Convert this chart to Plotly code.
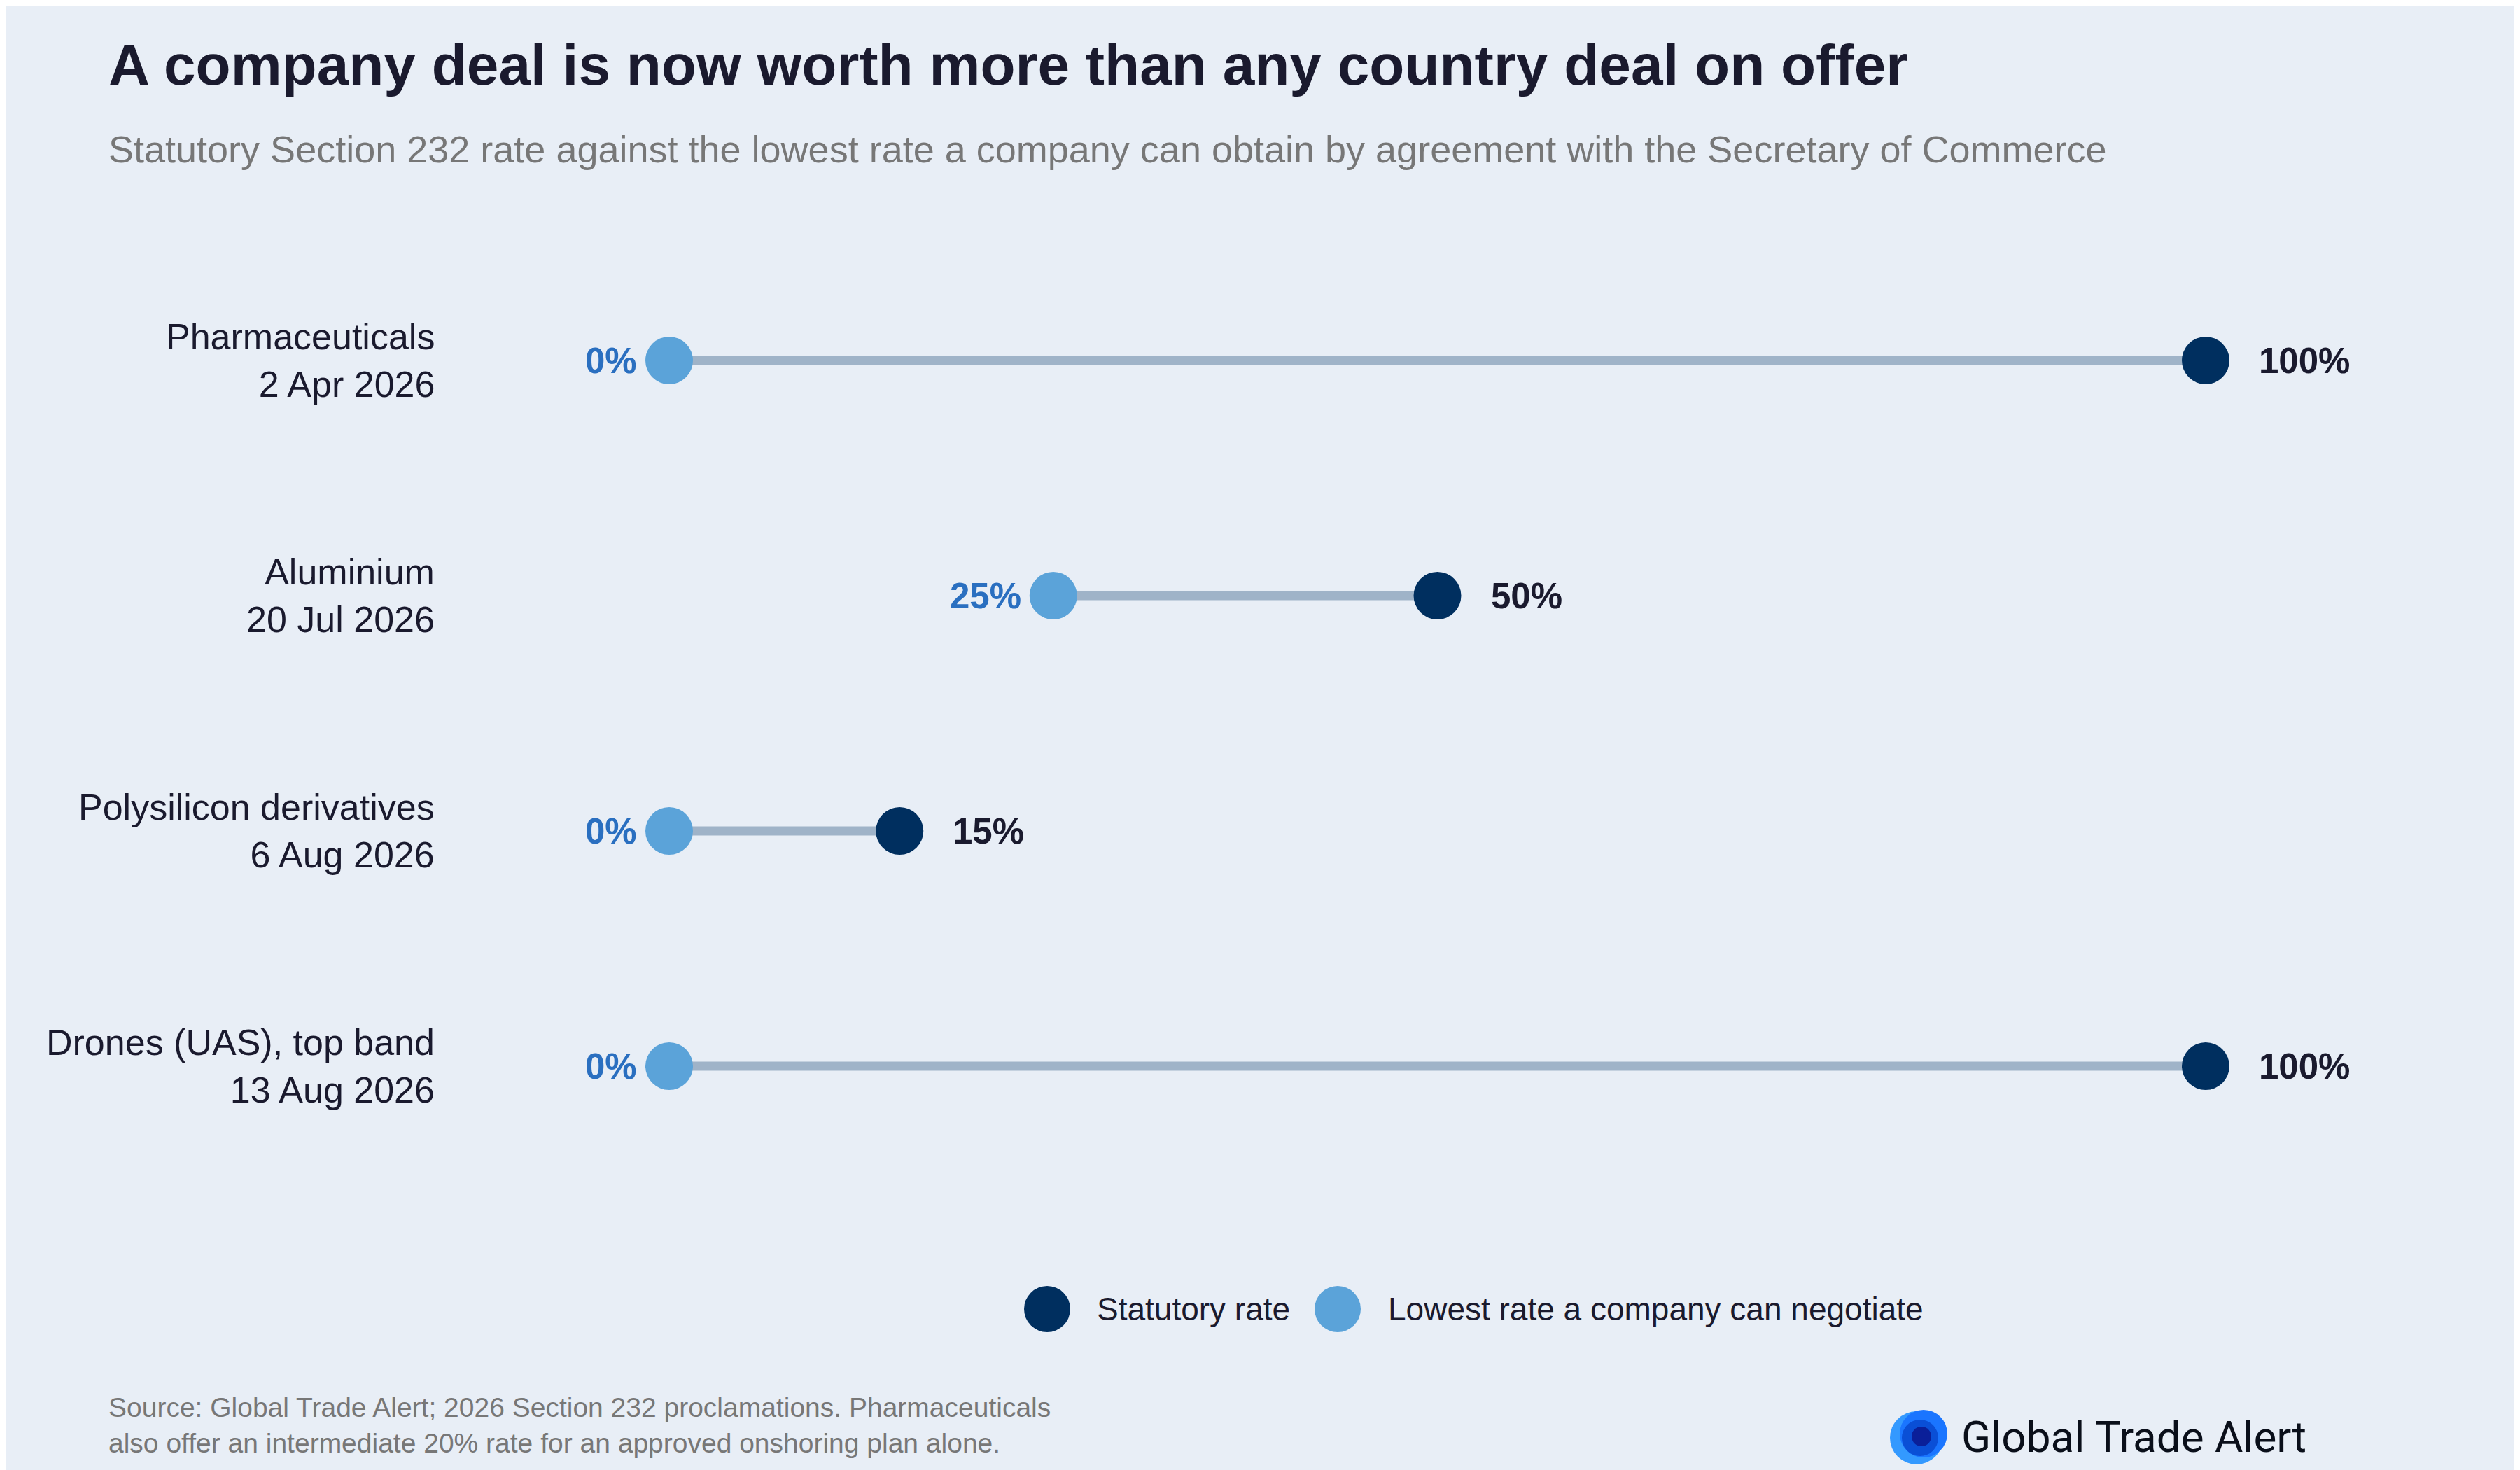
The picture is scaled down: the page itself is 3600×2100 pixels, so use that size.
import plotly.graph_objects as go

categories = ["Pharmaceuticals", "Aluminium", "Polysilicon derivatives", "Drones (UAS), top band"]
dates = ["2 Apr 2026", "20 Jul 2026", "6 Aug 2026", "13 Aug 2026"]
statutory = [100, 50, 15, 100]
lowest = [0, 25, 0, 0]
legend_names = ["Statutory rate", "Lowest rate a company can negotiate"]

W, H = 3600, 2100
L, R, T, B = 948, 457, 339, 417
PW, PH = W - L - R, H - T - B
def px(x): return (x - L) / PW
def py(y): return (H - B - y) / PH

NAVY = "#002f5f"; LIGHT = "#5ba3d9"; LINE = "#9fb3c8"; BG = "#e8eef6"
FONT = "Liberation Sans"
fig = go.Figure()
ys = list(range(len(categories)))
for i in ys:
    fig.add_trace(go.Scatter(x=[lowest[i], statutory[i]], y=[i, i], mode="lines",
                             line=dict(color=LINE, width=13), showlegend=False, hoverinfo="skip"))
fig.add_trace(go.Scatter(x=statutory, y=ys, mode="markers", name=legend_names[0], showlegend=False,
                         marker=dict(color=NAVY, size=68), cliponaxis=False))
fig.add_trace(go.Scatter(x=lowest, y=ys, mode="markers", name=legend_names[1], showlegend=False,
                         marker=dict(color=LIGHT, size=68), cliponaxis=False))

ann = []
for i in ys:
    ann.append(dict(x=px(615), y=i, xref="paper", yref="y", xanchor="right", yanchor="middle",
                    text=f"{categories[i]}<br>{dates[i]}", showarrow=False, align="right",
                    font=dict(family=FONT, size=52, color="#1a1a2e")))
    ann.append(dict(x=lowest[i], y=i, xref="x", yref="y", xanchor="right", xshift=-44,
                    text=f"<b>{lowest[i]}%</b>", showarrow=False,
                    font=dict(family=FONT, size=51, color="#2a6fc0")))
    ann.append(dict(x=statutory[i], y=i, xref="x", yref="y", xanchor="left", xshift=74,
                    text=f"<b>{statutory[i]}%</b>", showarrow=False,
                    font=dict(family=FONT, size=51, color="#1a1a2e")))
ann += [
    dict(x=px(145), y=py(85), xref="paper", yref="paper", xanchor="left", yanchor="middle",
         text="<b>A company deal is now worth more than any country deal on offer</b>", showarrow=False,
         font=dict(family=FONT, size=82, color="#1a1a2e")),
    dict(x=px(145), y=py(205), xref="paper", yref="paper", xanchor="left", yanchor="middle",
         text="Statutory Section 232 rate against the lowest rate a company can obtain by agreement with the Secretary of Commerce",
         showarrow=False, font=dict(family=FONT, size=54, color="#777777")),
    dict(x=px(145), y=py(2028), xref="paper", yref="paper", xanchor="left", yanchor="middle", align="left",
         text="Source: Global Trade Alert; 2026 Section 232 proclamations. Pharmaceuticals<br>also offer an intermediate 20% rate for an approved onshoring plan alone.",
         showarrow=False, font=dict(family=FONT, size=39, color="#777777")),
    dict(x=px(2792), y=py(2044), xref="paper", yref="paper", xanchor="left", yanchor="middle",
         text="Global Trade Alert", showarrow=False, font=dict(family="Roboto", size=62, color="#0a0f1a")),
    dict(x=px(1557), y=py(1862), xref="paper", yref="paper", xanchor="left", yanchor="middle",
         text=legend_names[0], showarrow=False, font=dict(family=FONT, size=46, color="#1a1a2e")),
    dict(x=px(1973), y=py(1862), xref="paper", yref="paper", xanchor="left", yanchor="middle",
         text=legend_names[1], showarrow=False, font=dict(family=FONT, size=46, color="#1a1a2e")),
]

shapes = []
for (cx, cy, r, col) in [(2730, 2046, 38, "#3399ff"), (2740, 2040, 34, "#1a75ff"),
                         (2735, 2046, 26, "#0a4fd6"), (2737, 2044, 14, "#0a1f99"),
                         (1488, 1862, 33, NAVY), (1903, 1862, 33, LIGHT)]:
    shapes.append(dict(type="circle", xref="paper", yref="paper", x0=px(cx - r), x1=px(cx + r),
                       y0=py(cy + r), y1=py(cy - r), fillcolor=col, line=dict(width=0), layer="above"))

fig.update_layout(
    width=W, height=H, paper_bgcolor=BG, plot_bgcolor=BG,
    margin=dict(l=L, r=R, t=T, b=B), showlegend=False,
    xaxis=dict(range=[0, 100], visible=False, fixedrange=True),
    yaxis=dict(range=[3.5, -0.5], visible=False),
    annotations=ann, shapes=shapes,
)
fig.write_html("out.html")
